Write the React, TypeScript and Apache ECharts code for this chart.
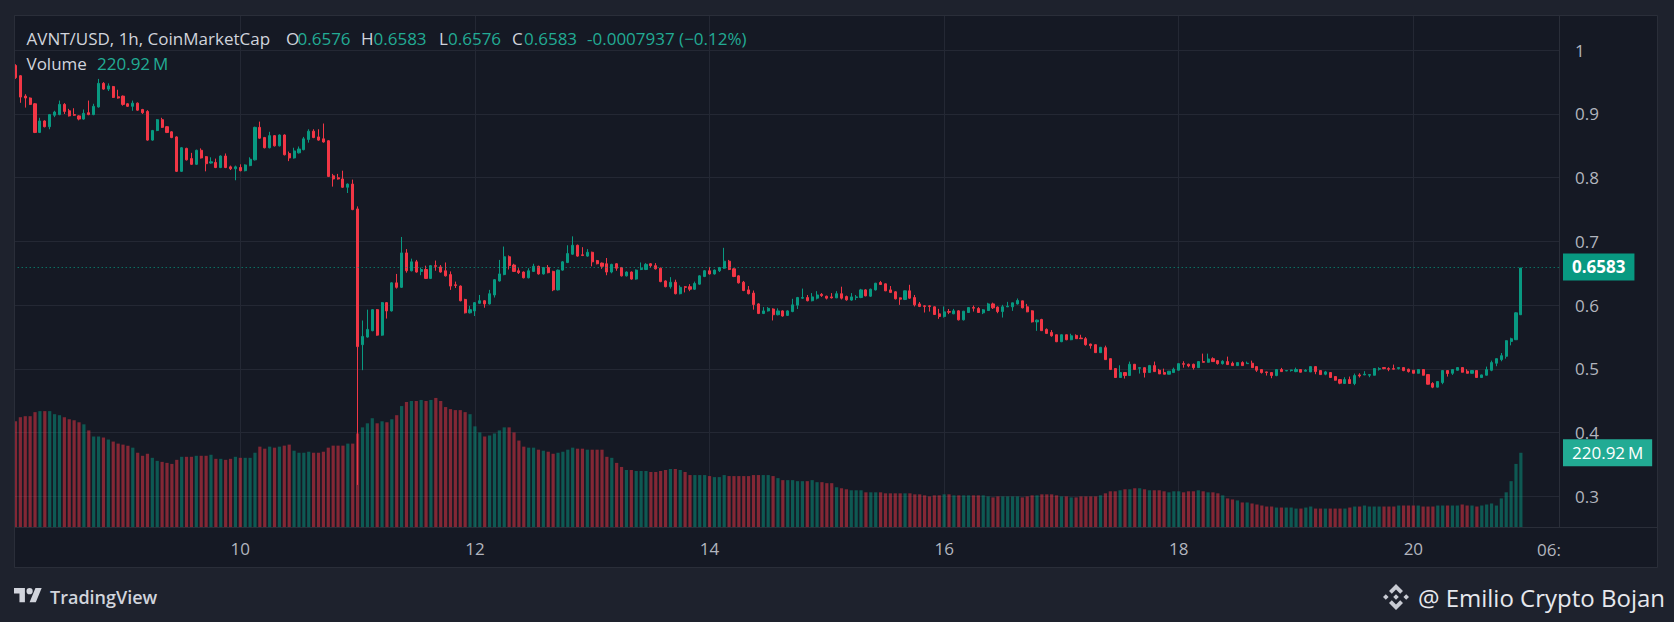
import React, { useEffect, useRef } from "react";
import * as echarts from "echarts";

// ---------- data ----------
// hour offset of the first candle, relative to day 10 00:00
const FIRST_HOUR = -46;

// hourly candles: [open, close, low, high]
const candles: number[][] = [
  [0.976, 0.957, 0.955, 0.978], [0.960, 0.9265, 0.9175, 0.961], [0.928, 0.925, 0.910, 0.931], [0.925, 0.915, 0.914, 0.926],
  [0.916, 0.871, 0.870, 0.917], [0.871, 0.889, 0.870, 0.894], [0.889, 0.880, 0.879, 0.890], [0.880, 0.899, 0.876, 0.900],
  [0.898, 0.903, 0.895, 0.905], [0.899, 0.915, 0.898, 0.921], [0.915, 0.904, 0.900, 0.917], [0.905, 0.897, 0.896, 0.908],
  [0.899, 0.898, 0.897, 0.909], [0.897, 0.892, 0.890, 0.898], [0.892, 0.901, 0.891, 0.907], [0.902, 0.899, 0.898, 0.921],
  [0.899, 0.912, 0.898, 0.916], [0.911, 0.948, 0.910, 0.955], [0.948, 0.939, 0.938, 0.950], [0.939, 0.944, 0.936, 0.948],
  [0.943, 0.926, 0.925, 0.944], [0.927, 0.925, 0.924, 0.938], [0.928, 0.915, 0.913, 0.929], [0.916, 0.912, 0.911, 0.917],
  [0.912, 0.917, 0.905, 0.921], [0.917, 0.906, 0.905, 0.918], [0.907, 0.902, 0.900, 0.908], [0.904, 0.859, 0.858, 0.906],
  [0.859, 0.874, 0.858, 0.875], [0.874, 0.891, 0.873, 0.892], [0.891, 0.879, 0.878, 0.894], [0.880, 0.871, 0.870, 0.881],
  [0.872, 0.863, 0.862, 0.873], [0.864, 0.810, 0.809, 0.865], [0.810, 0.847, 0.809, 0.848], [0.846, 0.828, 0.827, 0.847],
  [0.830, 0.821, 0.820, 0.839], [0.821, 0.843, 0.820, 0.844], [0.843, 0.831, 0.830, 0.846], [0.833, 0.822, 0.810, 0.834],
  [0.823, 0.825, 0.822, 0.832], [0.824, 0.816, 0.815, 0.830], [0.816, 0.834, 0.815, 0.835], [0.834, 0.816, 0.815, 0.838],
  [0.817, 0.814, 0.812, 0.819], [0.814, 0.817, 0.796, 0.819], [0.816, 0.811, 0.810, 0.821], [0.811, 0.820, 0.810, 0.821],
  [0.819, 0.829, 0.818, 0.832], [0.828, 0.879, 0.827, 0.880], [0.879, 0.862, 0.861, 0.888], [0.863, 0.847, 0.846, 0.864],
  [0.847, 0.866, 0.846, 0.872], [0.866, 0.850, 0.849, 0.867], [0.850, 0.867, 0.849, 0.868],
  [0.867, 0.836, 0.835, 0.868], [0.838, 0.831, 0.826, 0.841], [0.831, 0.842, 0.830, 0.847], [0.839, 0.845, 0.838, 0.849],
  [0.844, 0.861, 0.843, 0.864], [0.860, 0.873, 0.855, 0.876], [0.873, 0.863, 0.862, 0.876], [0.864, 0.859, 0.858, 0.876],
  [0.861, 0.856, 0.855, 0.885], [0.858, 0.802, 0.801, 0.859], [0.803, 0.798, 0.786, 0.806], [0.800, 0.798, 0.797, 0.806],
  [0.798, 0.785, 0.784, 0.811], [0.785, 0.790, 0.776, 0.791], [0.790, 0.750, 0.749, 0.797], [0.751, 0.535, 0.318, 0.755],
  [0.538, 0.551, 0.498, 0.576], [0.550, 0.562, 0.549, 0.593], [0.560, 0.593, 0.559, 0.594], [0.593, 0.553, 0.552, 0.594],
  [0.553, 0.604, 0.552, 0.605], [0.604, 0.591, 0.579, 0.605], [0.591, 0.635, 0.590, 0.636], [0.635, 0.628, 0.626, 0.649],
  [0.628, 0.682, 0.627, 0.707], [0.682, 0.654, 0.651, 0.688], [0.654, 0.668, 0.653, 0.673], [0.668, 0.652, 0.651, 0.671],
  [0.653, 0.656, 0.647, 0.659], [0.656, 0.642, 0.641, 0.662], [0.642, 0.662, 0.641, 0.663], [0.662, 0.661, 0.654, 0.670],
  [0.660, 0.652, 0.651, 0.663], [0.654, 0.646, 0.645, 0.667], [0.648, 0.630, 0.624, 0.653], [0.632, 0.631, 0.627, 0.637],
  [0.630, 0.607, 0.606, 0.631], [0.609, 0.588, 0.587, 0.610], [0.588, 0.593, 0.587, 0.599], [0.591, 0.604, 0.583, 0.605],
  [0.603, 0.607, 0.602, 0.616], [0.607, 0.602, 0.596, 0.608], [0.602, 0.618, 0.601, 0.624], [0.616, 0.640, 0.612, 0.641],
  [0.638, 0.649, 0.637, 0.671], [0.648, 0.676, 0.647, 0.692], [0.676, 0.662, 0.656, 0.678], [0.663, 0.653, 0.652, 0.665],
  [0.654, 0.651, 0.649, 0.658], [0.652, 0.643, 0.642, 0.653], [0.643, 0.654, 0.642, 0.658],
  [0.653, 0.661, 0.652, 0.665], [0.661, 0.649, 0.648, 0.662], [0.649, 0.659, 0.648, 0.660], [0.659, 0.651, 0.650, 0.663],
  [0.653, 0.624, 0.622, 0.654], [0.624, 0.655, 0.623, 0.656], [0.655, 0.668, 0.654, 0.669], [0.667, 0.681, 0.666, 0.694],
  [0.680, 0.694, 0.679, 0.708], [0.694, 0.677, 0.676, 0.695], [0.679, 0.678, 0.677, 0.691], [0.677, 0.683, 0.676, 0.688],
  [0.683, 0.668, 0.661, 0.684], [0.670, 0.665, 0.664, 0.671], [0.666, 0.661, 0.657, 0.667], [0.665, 0.652, 0.647, 0.674],
  [0.652, 0.664, 0.650, 0.665], [0.665, 0.658, 0.654, 0.666], [0.659, 0.646, 0.645, 0.660], [0.646, 0.652, 0.645, 0.653],
  [0.652, 0.641, 0.640, 0.653], [0.641, 0.655, 0.640, 0.656], [0.656, 0.658, 0.655, 0.667], [0.656, 0.664, 0.655, 0.666],
  [0.665, 0.662, 0.659, 0.666], [0.662, 0.657, 0.656, 0.666], [0.658, 0.637, 0.636, 0.659], [0.638, 0.629, 0.628, 0.639],
  [0.629, 0.636, 0.626, 0.644], [0.636, 0.618, 0.617, 0.640], [0.618, 0.628, 0.617, 0.631], [0.629, 0.628, 0.620, 0.630],
  [0.629, 0.625, 0.622, 0.633], [0.625, 0.634, 0.624, 0.637], [0.633, 0.646, 0.632, 0.647], [0.645, 0.654, 0.644, 0.655],
  [0.654, 0.649, 0.648, 0.660], [0.649, 0.655, 0.648, 0.656], [0.654, 0.659, 0.652, 0.660], [0.658, 0.669, 0.657, 0.690],
  [0.669, 0.656, 0.655, 0.671], [0.657, 0.645, 0.644, 0.658], [0.646, 0.635, 0.634, 0.647], [0.636, 0.623, 0.622, 0.638],
  [0.624, 0.618, 0.617, 0.630], [0.619, 0.601, 0.593, 0.623], [0.602, 0.587, 0.586, 0.603], [0.587, 0.591, 0.586, 0.597],
  [0.591, 0.595, 0.590, 0.597], [0.594, 0.585, 0.576, 0.595], [0.585, 0.591, 0.584, 0.595],
  [0.591, 0.583, 0.582, 0.592], [0.584, 0.591, 0.583, 0.592], [0.590, 0.6005, 0.589, 0.610], [0.600, 0.612, 0.594, 0.613],
  [0.611, 0.612, 0.610, 0.626], [0.612, 0.607, 0.606, 0.616], [0.607, 0.613, 0.606, 0.619], [0.611, 0.616, 0.609, 0.622],
  [0.617, 0.615, 0.613, 0.619], [0.614, 0.611, 0.609, 0.615], [0.613, 0.6115, 0.6105, 0.619], [0.6115, 0.618, 0.611, 0.622],
  [0.618, 0.611, 0.609, 0.629], [0.6135, 0.6084, 0.607, 0.615], [0.608, 0.613, 0.607, 0.619], [0.612, 0.613, 0.608, 0.616],
  [0.612, 0.624, 0.611, 0.6256], [0.624, 0.6146, 0.614, 0.625], [0.6141, 0.625, 0.613, 0.626], [0.624, 0.6345, 0.623, 0.635],
  [0.6356, 0.6324, 0.632, 0.638], [0.6335, 0.6225, 0.622, 0.634], [0.624, 0.620, 0.619, 0.630], [0.621, 0.610, 0.609, 0.622],
  [0.6115, 0.6094, 0.6005, 0.612], [0.609, 0.6225, 0.608, 0.623], [0.6225, 0.611, 0.610, 0.632], [0.612, 0.6005, 0.598, 0.616],
  [0.602, 0.598, 0.597, 0.605], [0.599, 0.598, 0.5885, 0.600], [0.599, 0.598, 0.590, 0.600], [0.5974, 0.5854, 0.585, 0.598],
  [0.5864, 0.5822, 0.5786, 0.5942], [0.5822, 0.5895, 0.5806, 0.598], [0.590, 0.589, 0.586, 0.594], [0.5864, 0.5911, 0.586, 0.5942],
  [0.5911, 0.577, 0.576, 0.592], [0.577, 0.5906, 0.576, 0.591], [0.5885, 0.5963, 0.588, 0.597], [0.5963, 0.5953, 0.590, 0.5995],
  [0.5948, 0.5885, 0.588, 0.597], [0.588, 0.5927, 0.586, 0.594], [0.5916, 0.602, 0.591, 0.6037], [0.602, 0.5958, 0.594, 0.604],
  [0.597, 0.590, 0.5874, 0.598], [0.590, 0.5974, 0.5806, 0.6005], [0.5974, 0.5984, 0.597, 0.6052], [0.5974, 0.6037, 0.5911, 0.604],
  [0.602, 0.6073, 0.601, 0.6105], [0.6068, 0.5958, 0.595, 0.607], [0.5974, 0.5895, 0.589, 0.602], [0.5911, 0.5738, 0.5728, 0.592],
  [0.5738, 0.5765, 0.5597, 0.5775],
  [0.5776, 0.560, 0.5595, 0.5786], [0.562, 0.5557, 0.555, 0.5635], [0.5573, 0.552, 0.5505, 0.561], [0.5536, 0.5427, 0.542, 0.554],
  [0.5427, 0.5536, 0.542, 0.554], [0.5536, 0.5458, 0.545, 0.554], [0.5458, 0.552, 0.545, 0.5552], [0.5526, 0.5474, 0.547, 0.5542],
  [0.5484, 0.5474, 0.547, 0.5536], [0.5474, 0.538, 0.5365, 0.55], [0.539, 0.5365, 0.5318, 0.5395], [0.538, 0.5255, 0.525, 0.5385],
  [0.5255, 0.5339, 0.525, 0.5345], [0.5333, 0.5146, 0.514, 0.5365], [0.5161, 0.499, 0.4985, 0.5165], [0.5005, 0.4865, 0.486, 0.501],
  [0.4865, 0.4943, 0.486, 0.5057], [0.4943, 0.4896, 0.4849, 0.4948], [0.4896, 0.5073, 0.489, 0.5115], [0.5073, 0.499, 0.4985, 0.5078],
  [0.501, 0.502, 0.4927, 0.5025], [0.502, 0.4943, 0.4865, 0.5025], [0.4943, 0.5052, 0.494, 0.5063], [0.5052, 0.4958, 0.4955, 0.5115],
  [0.498, 0.4922, 0.492, 0.5], [0.4943, 0.4917, 0.4915, 0.5005], [0.4917, 0.4964, 0.4912, 0.4968], [0.4943, 0.4995, 0.494, 0.502],
  [0.498, 0.5083, 0.4975, 0.5088], [0.5083, 0.5073, 0.502, 0.512], [0.5073, 0.5047, 0.5026, 0.5083], [0.5073, 0.502, 0.499, 0.5083],
  [0.502, 0.5115, 0.5015, 0.512], [0.5115, 0.5104, 0.51, 0.524], [0.5104, 0.5156, 0.51, 0.524], [0.5161, 0.5115, 0.511, 0.5182],
  [0.513, 0.5083, 0.5068, 0.5135], [0.5083, 0.512, 0.5068, 0.5135], [0.5115, 0.5068, 0.5063, 0.5193], [0.5089, 0.5052, 0.5048, 0.5115],
  [0.5052, 0.5099, 0.5048, 0.5104], [0.5099, 0.5052, 0.5048, 0.512], [0.5083, 0.5089, 0.508, 0.5115], [0.5089, 0.502, 0.5015, 0.513],
  [0.5036, 0.498, 0.4953, 0.504], [0.499, 0.4943, 0.4927, 0.4995], [0.4953, 0.4943, 0.4896, 0.4958], [0.4943, 0.4896, 0.4854, 0.4948],
  [0.4896, 0.499, 0.4885, 0.4995], [0.499, 0.4958, 0.4955, 0.5016], [0.4969, 0.4974, 0.4965, 0.4978], [0.4974, 0.4984, 0.4958, 0.4988],
  [0.4958, 0.499, 0.4948, 0.502],
  [0.499, 0.4948, 0.4944, 0.4995], [0.4964, 0.4979, 0.496, 0.4995], [0.4953, 0.5036, 0.495, 0.504], [0.5036, 0.4958, 0.4917, 0.504],
  [0.4974, 0.4911, 0.4907, 0.4978], [0.4917, 0.4953, 0.4901, 0.4969], [0.4943, 0.4865, 0.486, 0.4948], [0.488, 0.4823, 0.4818, 0.4885],
  [0.4833, 0.4776, 0.476, 0.4838], [0.4771, 0.4833, 0.4766, 0.487], [0.4833, 0.4771, 0.4766, 0.488], [0.4771, 0.4896, 0.4745, 0.4927],
  [0.4906, 0.489, 0.4865, 0.4932], [0.4906, 0.4917, 0.4902, 0.4964], [0.4901, 0.4911, 0.487, 0.4915], [0.4901, 0.5005, 0.4897, 0.501],
  [0.4995, 0.5005, 0.4974, 0.5026], [0.5021, 0.5005, 0.4995, 0.5025], [0.5005, 0.4995, 0.4964, 0.5026], [0.5005, 0.4995, 0.499, 0.5068],
  [0.5005, 0.5021, 0.499, 0.5025], [0.5021, 0.4974, 0.4964, 0.5025], [0.4995, 0.4958, 0.4943, 0.5005], [0.4979, 0.4932, 0.4928, 0.4983],
  [0.4932, 0.499, 0.4928, 0.4995], [0.499, 0.4901, 0.4897, 0.4995], [0.4911, 0.476, 0.4755, 0.4915], [0.4771, 0.4714, 0.4698, 0.4792],
  [0.4714, 0.4802, 0.471, 0.4806], [0.4786, 0.4974, 0.476, 0.4979], [0.4974, 0.4927, 0.488, 0.4979], [0.4932, 0.499, 0.4906, 0.4995],
  [0.4979, 0.5021, 0.4975, 0.5025], [0.5021, 0.4948, 0.4944, 0.5025], [0.4964, 0.4932, 0.4928, 0.4995], [0.4932, 0.4974, 0.4928, 0.4978],
  [0.4974, 0.4865, 0.486, 0.4978], [0.4865, 0.4906, 0.486, 0.491], [0.4901, 0.499, 0.4897, 0.5036], [0.4979, 0.5099, 0.4964, 0.513],
  [0.5089, 0.5161, 0.5042, 0.5165], [0.5146, 0.5208, 0.512, 0.525], [0.5198, 0.5443, 0.5161, 0.5448], [0.5432, 0.5474, 0.537, 0.549],
  [0.5458, 0.588, 0.5454, 0.589], [0.585, 0.6583, 0.5846, 0.6583],
];

// hourly volume, millions
const volumes: number[] = [
  314, 326, 329, 329, 341, 344, 344, 344, 335, 332, 326, 320, 317, 311, 305, 287, 269, 269, 266, 260,
  254, 248, 245, 242, 236, 221, 212, 218, 206, 197, 194, 191, 188, 200, 209, 209, 209, 212, 212, 212,
  215, 203, 203, 200, 203, 209, 206, 206, 206, 221, 239, 233, 239, 236, 239, 242, 245, 227, 221, 221,
  224, 221, 221, 224, 236, 242, 242, 242, 248, 248, 278,
  296, 308, 323, 308, 314, 311, 320, 332, 359, 371, 374, 374, 377, 374, 377, 383, 374, 356, 350, 347,
  347, 341, 335, 299, 281, 269, 272, 278, 287, 296, 296, 281, 257, 239, 236, 236, 230, 227, 224, 218,
  221, 224, 230, 236, 233, 233, 230, 230, 230, 230, 209, 206, 191, 179, 170, 170, 167, 167, 167, 164,
  164, 167, 170, 173, 173, 170, 164, 155, 155, 155, 155, 152, 149, 149, 155, 152, 152, 152, 152, 152,
  155, 155, 155,
  155, 152, 146, 140, 140, 140, 137, 137, 137, 140, 134, 134, 131, 131, 119, 116, 113, 110, 110, 110,
  104, 104, 104, 104, 101, 101, 101, 101, 101, 101, 98, 98, 95, 92, 95, 95, 98, 98, 95, 95,
  95, 95, 95, 95, 95, 92, 89, 92, 92, 92, 92, 92, 89, 92, 95, 95, 98, 98, 98, 95,
  92, 92, 89, 89, 92, 92, 92, 92, 95, 101, 107, 107, 110, 113, 113, 116, 116, 113, 110, 110,
  110, 107, 104, 107, 107, 104, 107, 107, 110, 107, 104, 104, 101, 95, 86, 83, 80, 74, 74, 71,
  68, 65, 62, 62, 59, 59, 59, 59, 56, 56, 59, 62, 56, 56, 56, 56, 56, 56, 56, 59,
  62, 62, 65, 62, 62, 62, 62, 62, 62, 65, 65, 65, 65, 65, 62, 62, 62, 65, 65, 65,
  65, 65, 68, 65, 65, 62, 65, 68, 71, 65, 86, 104, 137, 188, 220.92,
];

const dayLabels = ["10", "12", "14", "16", "18", "20"];
const partialTimeLabel = "06:";
const symbolText = "AVNT/USD, 1h, CoinMarketCap";
const ohlcKeys = ["O", "H", "L", "C"];
const ohlcValues = ["0.6576", "0.6583", "0.6576", "0.6583"];
const changeText = "-0.0007937 (\u22120.12%)";
const volumeName = "Volume";
const lastPrice = 0.6583;
const lastVolume = 220.92;
const lastPriceText = "0.6583";
const lastVolumeText = "220.92\u2009M";

// ---------- styles ----------
const UP = "#089981";
const DOWN = "#f23645";
const VOL_UP = "rgba(8,153,129,0.5)";
const VOL_DOWN = "rgba(242,54,69,0.5)";
const TAG_VOL = "#22ab94";
const OUTER = "#1e222d";
const PANEL = "#151924";
const BORDER = "#2a2e39";
const GRID = "#242834";
const TXT = "#d1d4dc";
const AXT = "#b2b5be";
const GREEN_TXT = "#22ab94";
const FONT = "'Open Sans', 'Noto Sans', sans-serif";

const tvLogoPath =
  "M14 22H7V11H0V4h14v18zM28 22h-8l7.5-18h8L28 22zM24 8a4 4 0 1 1-8 0a4 4 0 1 1 8 0z";
const bnbLogoPath =
  "M13 0L20 7L17.2 9.8L13 5.6L8.8 9.8L6 7Z M13 26L6 19L8.8 16.2L13 20.4L17.2 16.2L20 19Z M2.8 10.2L5.6 13L2.8 15.8L0 13Z M23.2 10.2L26 13L23.2 15.8L20.4 13Z M13 10.2L15.8 13L13 15.8L10.2 13Z";

let shapesRegistered = false;
function registerShapes() {
  if (shapesRegistered) return;
  echarts.graphic.registerShape("tvlogo", echarts.graphic.extendPath(tvLogoPath, {}));
  echarts.graphic.registerShape("bnblogo", echarts.graphic.extendPath(bnbLogoPath, {}));
  shapesRegistered = true;
}

export default function App() {
  const ref = useRef<HTMLDivElement>(null);

  useEffect(() => {
    if (!ref.current) return;
    registerShapes();
    const chart = echarts.init(ref.current, undefined, { renderer: "svg" });

    const candleData = candles.map((r, i) => [FIRST_HOUR + i, r[0], r[1], r[2], r[3]]);
    const volData = volumes.map((v, i) => {
      const c = candles[i];
      const up = c ? c[1] >= c[0] : true;
      return { value: [FIRST_HOUR + i, v], itemStyle: { color: up ? VOL_UP : VOL_DOWN } };
    });

    const txt = (x: number, y: number, text: string, fill: string, size = 17, extra: any = {}) => ({
      type: "text",
      x,
      y,
      z: 100,
      silent: true,
      style: {
        text,
        fill,
        font: `${extra.weight || "normal"} ${size}px ${FONT}`,
        textAlign: extra.align || "left",
        textVerticalAlign: "middle",
      },
    });

    const ohlcX = [286, 361, 439, 512];
    const ohlcValX = [297.5, 373.5, 448, 524];

    const graphics: any[] = [
      // panel
      {
        type: "rect",
        z: -10,
        silent: true,
        shape: { x: 14.5, y: 15.5, width: 1643, height: 552 },
        style: { fill: PANEL, stroke: BORDER, lineWidth: 1 },
      },
      // cover left of panel
      { type: "rect", z: 90, silent: true, shape: { x: 0, y: 0, width: 14, height: 622 }, style: { fill: OUTER } },
      { type: "line", z: 91, silent: true, shape: { x1: 14.5, y1: 15.5, x2: 14.5, y2: 567.5 }, style: { stroke: BORDER, lineWidth: 1 } },
      // separators
      { type: "line", z: 91, silent: true, shape: { x1: 14.5, y1: 527.5, x2: 1657.5, y2: 527.5 }, style: { stroke: BORDER, lineWidth: 1 } },
      { type: "line", z: 91, silent: true, shape: { x1: 1559.5, y1: 15.5, x2: 1559.5, y2: 527.5 }, style: { stroke: BORDER, lineWidth: 1 } },
      // legend
      txt(26.5, 38, symbolText, TXT),
      ...ohlcKeys.map((k, i) => txt(ohlcX[i], 38, k, TXT)),
      ...ohlcValues.map((v, i) => txt(ohlcValX[i], 38, v, GREEN_TXT)),
      txt(587, 38, changeText, GREEN_TXT),
      txt(26.5, 63, volumeName, TXT),
      txt(97, 63, String(lastVolume) + "\u2009M", GREEN_TXT),
      // partial time label
      txt(1537, 549, partialTimeLabel, AXT),
      // footer
      {
        type: "tvlogo",
        x: 14,
        y: 585,
        scaleX: 0.78,
        scaleY: 0.78,
        z: 100,
        silent: true,
        style: { fill: TXT },
      },
      txt(50, 597, "TradingView", TXT, 18, { weight: 600 }),
      {
        type: "bnblogo",
        x: 1383,
        y: 584,
        z: 100,
        silent: true,
        style: { fill: "#c8cbd3" },
      },
      txt(1665, 597, "@ Emilio Crypto Bojan", "#e6e8ee", 24, { align: "right" }),
    ];

    chart.setOption({
      animation: false,
      backgroundColor: OUTER,
      textStyle: { fontFamily: FONT },
      grid: { left: 5.7, right: 115, top: 16, bottom: 94.5, containLabel: false },
      xAxis: {
        type: "value",
        min: -48,
        max: 269.8,
        interval: 48,
        axisLine: { show: false },
        axisTick: { show: false },
        splitLine: { show: true, showMinLine: false, showMaxLine: false, lineStyle: { color: GRID, width: 1 } },
        axisLabel: {
          color: AXT,
          fontSize: 17,
          fontFamily: FONT,
          margin: 12,
          showMinLabel: true,
          showMaxLabel: true,
          formatter: (v: number) => {
            const idx = v / 48;
            return Number.isInteger(idx) && idx >= 0 && idx < dayLabels.length ? dayLabels[idx] : "";
          },
        },
      },
      yAxis: [
        {
          type: "value",
          position: "right",
          min: 0.2512,
          max: 1.0537,
          splitNumber: 8,
          axisLine: { show: false },
          axisTick: { show: false },
          splitLine: { show: true, showMinLine: false, showMaxLine: false, lineStyle: { color: GRID, width: 1 } },
          axisLabel: {
            color: AXT,
            fontSize: 17,
            fontFamily: FONT,
            margin: 16,
            showMinLabel: false,
            showMaxLabel: false,
          },
        },
        {
          type: "value",
          min: 0,
          max: 1512,
          show: false,
          splitLine: { show: false },
        },
      ],
      series: [
        {
          type: "bar",
          name: "Volume",
          xAxisIndex: 0,
          yAxisIndex: 1,
          data: volData,
          barWidth: 3.2,
          z: 1,
          silent: true,
          markLine: {
            silent: true,
            symbol: ["none", "none"],
            lineStyle: { color: "rgba(0,0,0,0)", width: 1, type: "solid" },
            data: [{ yAxis: lastVolume }],
            label: {
              show: true,
              position: "end",
              distance: 4,
              formatter: lastVolumeText,
              backgroundColor: TAG_VOL,
              color: "#ffffff",
              fontSize: 17,
              fontFamily: FONT,
              lineHeight: 19,
              padding: [4, 9, 4, 9],
            },
          },
        },
        {
          type: "candlestick",
          name: "AVNT/USD",
          xAxisIndex: 0,
          yAxisIndex: 0,
          data: candleData,
          encode: { x: 0, y: [1, 2, 3, 4] },
          barWidth: 2.6,
          z: 3,
          silent: true,
          itemStyle: {
            color: UP,
            color0: DOWN,
            borderColor: UP,
            borderColor0: DOWN,
            borderWidth: 1,
          },
          markLine: {
            silent: true,
            symbol: ["none", "none"],
            lineStyle: { color: UP, type: [1, 3], width: 1 },
            data: [{ yAxis: lastPrice }],
            label: {
              show: true,
              position: "end",
              distance: 4,
              formatter: lastPriceText,
              backgroundColor: UP,
              color: "#ffffff",
              fontSize: 17,
              fontWeight: "bold",
              fontFamily: FONT,
              lineHeight: 19,
              padding: [4, 9, 4, 9],
            },
          },
        },
      ],
      graphic: { elements: graphics },
    });

    return () => chart.dispose();
  }, []);

  return (
    <div
      ref={ref}
      style={{ position: "fixed", left: 0, top: 0, width: 1674, height: 622 }}
    />
  );
}
